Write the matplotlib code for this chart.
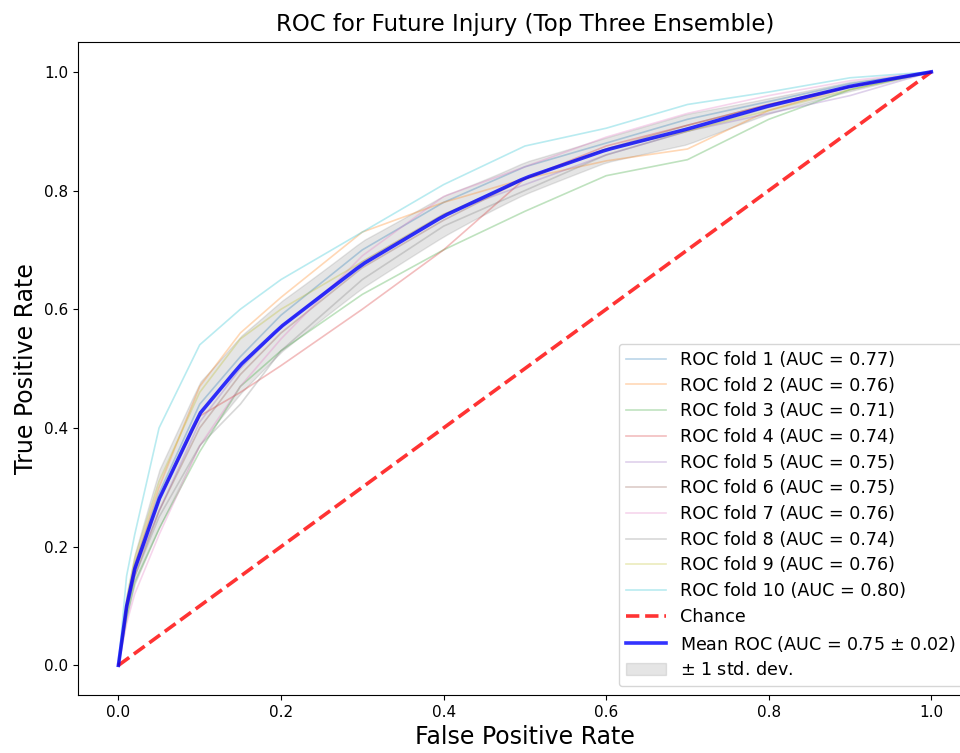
import numpy as np
import matplotlib
matplotlib.use("Agg")
import matplotlib.pyplot as plt

# FPR points at which each fold's TPR was read
fpr_points = [0.0, 0.01, 0.02, 0.05, 0.1, 0.15, 0.2, 0.3, 0.4, 0.5, 0.6, 0.7, 0.8, 0.9, 1.0]

fold_1 = [0.0, 0.10, 0.17, 0.29, 0.44, 0.52, 0.59, 0.70, 0.78, 0.84, 0.88, 0.92, 0.95, 0.98, 1.0]
fold_2 = [0.0, 0.10, 0.17, 0.30, 0.47, 0.56, 0.62, 0.73, 0.78, 0.82, 0.85, 0.87, 0.935, 0.975, 1.0]
fold_3 = [0.0, 0.08, 0.14, 0.23, 0.36, 0.47, 0.53, 0.625, 0.70, 0.765, 0.825, 0.852, 0.92, 0.97, 1.0]
fold_4 = [0.0, 0.10, 0.16, 0.28, 0.42, 0.46, 0.505, 0.60, 0.70, 0.82, 0.875, 0.91, 0.945, 0.975, 1.0]
fold_5 = [0.0, 0.10, 0.16, 0.26, 0.41, 0.50, 0.57, 0.68, 0.76, 0.81, 0.86, 0.90, 0.93, 0.96, 1.0]
fold_6 = [0.0, 0.09, 0.15, 0.26, 0.40, 0.49, 0.56, 0.67, 0.75, 0.82, 0.87, 0.91, 0.945, 0.975, 1.0]
fold_7 = [0.0, 0.07, 0.12, 0.22, 0.37, 0.47, 0.55, 0.69, 0.79, 0.84, 0.89, 0.93, 0.96, 0.985, 1.0]
fold_8 = [0.0, 0.09, 0.15, 0.25, 0.37, 0.44, 0.53, 0.65, 0.74, 0.80, 0.86, 0.90, 0.94, 0.975, 1.0]
fold_9 = [0.0, 0.11, 0.18, 0.31, 0.46, 0.55, 0.60, 0.68, 0.76, 0.82, 0.87, 0.90, 0.935, 0.97, 1.0]
fold_10 = [0.0, 0.15, 0.22, 0.40, 0.54, 0.60, 0.65, 0.73, 0.81, 0.875, 0.905, 0.945, 0.966, 0.99, 1.0]

folds = [fold_1, fold_2, fold_3, fold_4, fold_5, fold_6, fold_7, fold_8, fold_9, fold_10]
fold_aucs = [0.77, 0.76, 0.71, 0.74, 0.75, 0.75, 0.76, 0.74, 0.76, 0.80]
mean_auc = 0.75
std_auc = 0.02

fig = plt.figure(figsize=(9.6, 7.53), dpi=100)
# axes runs past the right edge, as in the cropped original
ax = fig.add_axes([0.081, 0.077, 0.9315, 0.867])

mean_fpr = np.linspace(0, 1, 100)
tprs = []
for i, (tpr, auc) in enumerate(zip(folds, fold_aucs)):
    ax.plot(fpr_points, tpr, lw=1.2, alpha=0.3, color=f"C{i}",
            label=f"ROC fold {i + 1} (AUC = {auc:.2f})")
    tprs.append(np.interp(mean_fpr, fpr_points, tpr))

ax.plot([0, 1], [0, 1], linestyle="--", lw=2.6, color="r", alpha=0.8, label="Chance")

mean_tpr = np.mean(tprs, axis=0)
std_tpr = np.std(tprs, axis=0)
ax.plot(mean_fpr, mean_tpr, color="b", lw=2.6, alpha=0.8,
        label=f"Mean ROC (AUC = {mean_auc:.2f} $\\pm$ {std_auc:.2f})")
ax.fill_between(mean_fpr, np.maximum(mean_tpr - std_tpr, 0), np.minimum(mean_tpr + std_tpr, 1),
                color="grey", alpha=0.2, label=r"$\pm$ 1 std. dev.")

ax.set_xlim(-0.05, 1.05)
ax.set_ylim(-0.05, 1.05)
ax.set_xticks([0.0, 0.2, 0.4, 0.6, 0.8, 1.0])
ax.set_yticks([0.0, 0.2, 0.4, 0.6, 0.8, 1.0])
ax.tick_params(labelsize=11)
ax.set_xlabel("False Positive Rate", fontsize=17)
ax.set_ylabel("True Positive Rate", fontsize=17)
ax.set_title("ROC for Future Injury (Top Three Ensemble)", fontsize=16.5, pad=8)
ax.legend(loc="lower right", fontsize=12.6, handlelength=2.3, labelspacing=0.44)

fig.savefig("out.png", dpi=100)
